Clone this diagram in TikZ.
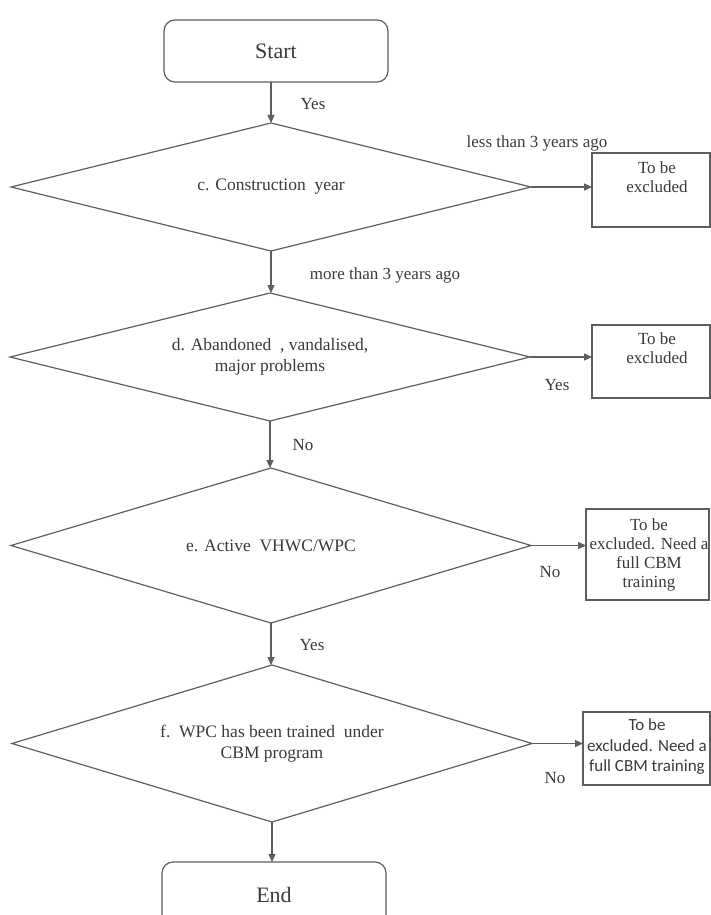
\documentclass[tikz,border=0pt]{standalone}
\usepackage{fontspec}
\setmainfont{LiberationSerif-Regular.ttf}
\newfontfamily\tms{LiberationSerif-Regular.ttf}
\newfontfamily\calib{Carlito}
\usetikzlibrary{shapes.geometric,arrows.meta}
\definecolor{linegray}{HTML}{5E5E5E}
\definecolor{txtgray}{HTML}{3A3A3A}
\begin{document}
\begin{tikzpicture}[x=1pt,y=-1pt,
  conn/.style={draw=linegray,line width=1.2pt,-{Triangle[length=8pt,width=7pt]}},
  dec/.style={shape=diamond,shape aspect=4,draw=linegray,line width=1.2pt,inner sep=0pt,outer sep=0pt,
     minimum width=520pt,align=center,text=txtgray,font=\tms\fontsize{17.5}{21}\selectfont},
  term/.style={rectangle,rounded corners=11pt,draw=linegray,line width=1.2pt,outer sep=0pt,
     minimum width=224pt,text=txtgray,font=\tms\fontsize{22}{26}\selectfont},
  exbox/.style={rectangle,draw=linegray,line width=1.2pt,outer sep=0pt,inner sep=0pt},
  boxtext/.style={align=center,inner sep=0pt,text=txtgray,font=\tms\fontsize{17}{19}\selectfont},
  lbl/.style={inner sep=0pt,text=txtgray,font=\tms\fontsize{17}{20}\selectfont}
]
\useasboundingbox (0,0) rectangle (711,915);
\fill[white] (0,0) rectangle (711,915);
\clip (0,0) rectangle (711,915);

% terminals
\node[term,minimum height=62pt] (start) at (276,51) {Start};
\node[term,minimum height=70pt] (end) at (274,897) {};
\node[lbl,font=\tms\fontsize{22}{26}\selectfont] (endtxt) at (274,895) {End};

% decisions
\node[dec,minimum height=128pt] (c) at (271,187) {c. Construction\ \ year};
\node[dec,minimum height=128pt] (d) at (270,357) {d. Abandoned\ \ , vandalised,\\major problems};
\node[dec,minimum height=155pt] (e) at (271,545.5) {e. Active\ \ VHWC/WPC};
\node[dec,minimum height=157pt] (f) at (272,743.5) {f.\ \ WPC has been trained\ \ under\\CBM program};

% exclusion boxes
\node[exbox,minimum width=118pt,minimum height=74pt] (x1) at (651,190) {};
\node[boxtext] (t1) at (657,177) {To be\\excluded};
\node[exbox,minimum width=118pt,minimum height=73pt] (x2) at (651,361.5) {};
\node[boxtext] (t2) at (657,348) {To be\\excluded};
\node[exbox,minimum width=123pt,minimum height=91pt] (x3) at (647.5,554.5) {};
\node[boxtext] (t3) at (649,555) {To be\\excluded. Need a\\full CBM\\training};
\node[exbox,minimum width=127pt,minimum height=73pt] (x4) at (646.5,748.5) {};
\node[boxtext,font=\calib\fontsize{17}{20.5}\selectfont] (t4) at (647,747) {To be\\excluded. Need a\\full CBM training};

% connectors
\draw[conn] (c.north |- start.south) -- (c.north);
\draw[conn] (c.south) -- (c.south |- d.north);
\draw[conn] (d.south) -- (d.south |- e.north);
\draw[conn] (e.south) -- (e.south |- f.north);
\draw[conn] (f.south) -- (f.south |- end.north);
\draw[conn] (c.east) -- (c.east -| x1.west);
\draw[conn] (d.east) -- (d.east -| x2.west);
\draw[conn] (e.east) -- (e.east -| x3.west);
\draw[conn] (f.east) -- (f.east -| x4.west);

% labels
\node[lbl] (l1) at (313,104) {Yes};
\node[lbl] (l2) at (537,143) {less than 3 years ago};
\node[lbl] (l3) at (385,275) {more than 3 years ago};
\node[lbl] (l4) at (557,385) {Yes};
\node[lbl] (l5) at (303,445) {No};
\node[lbl] (l6) at (550,572) {No};
\node[lbl] (l7) at (312,645) {Yes};
\node[lbl] (l8) at (555,778) {No};
\end{tikzpicture}
\end{document}
